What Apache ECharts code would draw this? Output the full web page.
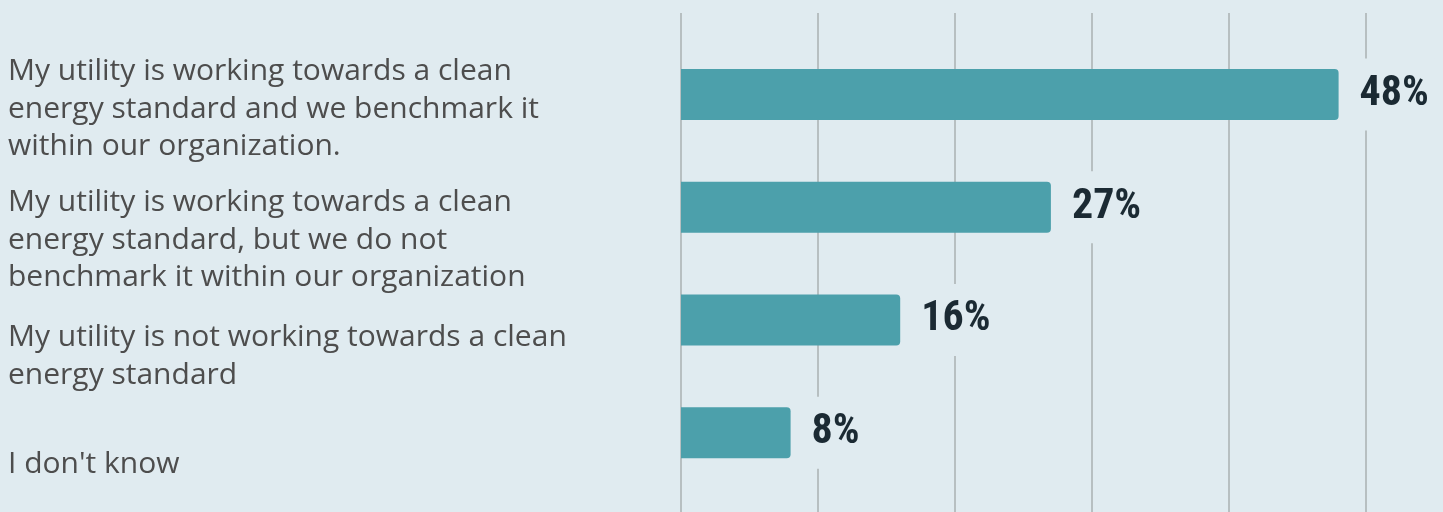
<!DOCTYPE html>
<html>
<head>
<meta charset="utf-8">
<script src="https://cdn.jsdelivr.net/npm/echarts@6/dist/echarts.min.js"></script>
<style>
  html, body { margin: 0; padding: 0; background: #e0ebf0; }
  #chart { width: 1443px; height: 512px; }
</style>
</head>
<body>
<div id="chart"></div>
<script>
// Survey answers (one entry per bar, top to bottom)
const categories = [
  'My utility is working towards a clean\nenergy standard and we benchmark it\nwithin our organization.',
  'My utility is working towards a clean\nenergy standard, but we do not\nbenchmark it within our organization',
  'My utility is not working towards a clean\nenergy standard',
  "I don't know"
];
// Share of respondents, percent
const shares = [48, 27, 16, 8];
// Value axis ticks (percent)
const axisTicks = [0, 10, 20, 30, 40, 50];

const BG = '#e0ebf0';
const labelShift = [30, 66, 73, 63]; // spacer height above each category label

const rich = { t: { fontFamily: 'Open Sans', fontSize: 30, lineHeight: 37.5, color: '#4d4d4d' } };
labelShift.forEach((h, i) => { rich['g' + i] = { fontSize: 1, height: h, lineHeight: h }; });

const chart = echarts.init(document.getElementById('chart'), null, { renderer: 'canvas' });
chart.setOption({
  backgroundColor: BG,
  animation: false,
  grid: [
    { left: 681, right: 77, top: 13, bottom: 0 },
    { left: 681, right: 77, top: 38, bottom: 23 }
  ],
  xAxis: [
    {
      gridIndex: 0, type: 'value',
      min: axisTicks[0], max: axisTicks[axisTicks.length - 1],
      interval: axisTicks[1] - axisTicks[0],
      axisLine: { show: false }, axisTick: { show: false }, axisLabel: { show: false },
      splitLine: { show: true, lineStyle: { color: '#b7bfc1', width: 2 } }
    },
    {
      gridIndex: 1, type: 'value',
      min: axisTicks[0], max: axisTicks[axisTicks.length - 1],
      show: false
    }
  ],
  yAxis: [
    { gridIndex: 0, type: 'value', show: false },
    {
      gridIndex: 1, type: 'category', data: categories, inverse: true,
      axisLine: { show: false }, axisTick: { show: false }, splitLine: { show: false },
      axisLabel: {
        interval: 0, hideOverlap: false,
        align: 'left', margin: 673,
        formatter: (v, i) => '{g' + i + '| }\n{t|' + v + '}',
        rich: rich
      }
    }
  ],
  series: [{
    type: 'bar',
    xAxisIndex: 1, yAxisIndex: 1,
    data: shares,
    barWidth: 51,
    itemStyle: { color: '#4ca0ab', borderRadius: [0, 4, 4, 0] },
    label: {
      show: true, position: 'right', distance: 15,
      formatter: '{c}%',
      fontFamily: "'Roboto Condensed', 'Liberation Sans Narrow', 'DejaVu Sans Condensed', sans-serif",
      fontWeight: 'bold', fontSize: 42, color: '#1b2a33',
      backgroundColor: BG, padding: [19, 6, 11, 6], lineHeight: 42
    }
  }]
});
</script>
</body>
</html>
